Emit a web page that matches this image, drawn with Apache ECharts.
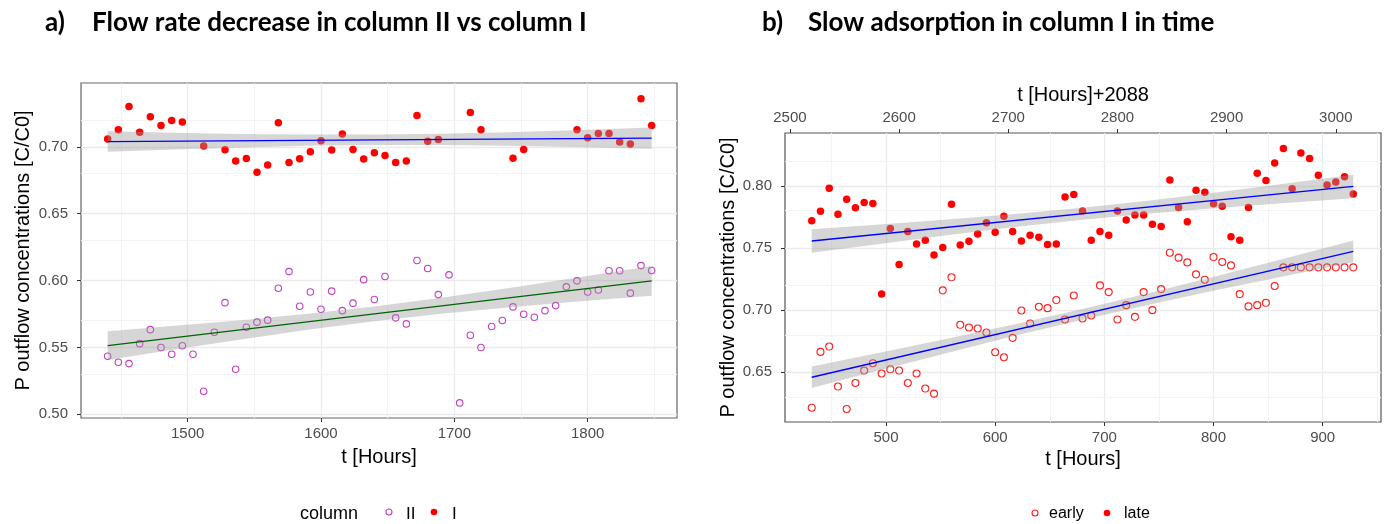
<!DOCTYPE html>
<html><head><meta charset="utf-8">
<script src="https://cdn.jsdelivr.net/npm/echarts@6/dist/echarts.min.js"></script>
<style>html,body{margin:0;padding:0;background:#fff}#c{width:1390px;height:524px}</style>
</head><body><div id="c"></div>
<script>
// ---------- Panel a) data ----------
const timeII = [1440,1448,1456,1464,1472,1480,1488,1496,1504,1512,1520,1528,1536,1544,1552,1560,1568,1576,1584,1592,1600,1608,1616,1624,1632,1640,1648,1656,1664,1672,1680,1688,1696,1704,1712,1720,1728,1736,1744,1752,1760,1768,1776,1784,1792,1800,1808,1816,1824,1832,1840,1848];
const valII = [0.5434,0.5389,0.5379,0.5528,0.5633,0.5499,0.5449,0.5513,0.5449,0.5172,0.5614,0.5835,0.5337,0.5651,0.5689,0.5704,0.5943,0.6067,0.5808,0.5915,0.5786,0.5921,0.5775,0.5831,0.6007,0.5858,0.6030,0.5721,0.5676,0.6150,0.6090,0.5895,0.6043,0.5085,0.5591,0.5499,0.5656,0.5701,0.5803,0.5748,0.5726,0.5775,0.5813,0.5953,0.5998,0.5915,0.5930,0.6073,0.6073,0.5906,0.6112,0.6075];
const timeI = [1440,1448,1456,1464,1472,1480,1488,1496,1512,1528,1536,1544,1552,1560,1568,1576,1584,1592,1600,1608,1616,1624,1632,1640,1648,1656,1664,1672,1680,1688,1712,1720,1744,1752,1792,1800,1808,1816,1824,1832,1840,1848];
const valI = [0.7060,0.7128,0.7302,0.7110,0.7225,0.7160,0.7198,0.7186,0.7006,0.6978,0.6894,0.6913,0.6811,0.6864,0.7180,0.6883,0.6911,0.6963,0.7046,0.6976,0.7096,0.6980,0.6909,0.6956,0.6936,0.6883,0.6894,0.7235,0.7043,0.7055,0.7258,0.7128,0.6916,0.6980,0.7128,0.7068,0.7100,0.7100,0.7036,0.7021,0.7360,0.7160];
// fitted lines and confidence bands
const fitTimeA = [1440,1848];
const fitI = [0.7040,0.7066];
const fitII = [0.5513,0.5998];
const bandTimeA = [1440,1490,1540,1590,1640,1690,1740,1790,1848];
const bandILo = [0.6963,0.6980,0.6995,0.7008,0.7014,0.7014,0.7008,0.6999,0.6987];
const bandIHi = [0.7117,0.7106,0.7097,0.7092,0.7092,0.7098,0.7110,0.7125,0.7145];
const bandIILo = [0.5405,0.5484,0.5560,0.5632,0.5696,0.5751,0.5799,0.5841,0.5887];
const bandIIHi = [0.5621,0.5662,0.5704,0.5752,0.5806,0.5871,0.5943,0.6019,0.6109];
const xTicksA = [1500,1600,1700,1800];
const xMinorA = [1450,1550,1650,1750,1850];
const yTicksA = [0.50,0.55,0.60,0.65,0.70];
const yMinorA = [0.525,0.575,0.625,0.675,0.725];

// ---------- Panel b) data ----------
const timeB = [432,440,448,456,464,472,480,488,496,504,512,520,528,536,544,552,560,568,576,584,592,600,608,616,624,632,640,648,656,664,672,680,688,696,704,712,720,728,736,744,752,760,768,776,784,792,800,808,816,824,832,840,848,856,864,872,880,888,896,904,912,920,928];
const valLate = [0.7720,0.7796,0.7981,0.7772,0.7893,0.7823,0.7866,0.7857,0.7129,0.7656,0.7368,0.7632,0.7532,0.7562,0.7444,0.7503,0.7852,0.7524,0.7554,0.7613,0.7702,0.7627,0.7756,0.7632,0.7556,0.7602,0.7586,0.7527,0.7532,0.7911,0.7930,0.7798,0.7562,0.7632,0.7602,0.7798,0.7726,0.7766,0.7766,0.7691,0.7672,0.8046,0.7825,0.7712,0.7965,0.7949,0.7855,0.7836,0.7591,0.7562,0.7825,0.8102,0.8043,0.8183,0.8301,0.7976,0.8264,0.8220,0.8086,0.8006,0.8030,0.8073,0.7935];
const valEarly = [0.6215,0.6664,0.6707,0.6385,0.6205,0.6414,0.6514,0.6573,0.6490,0.6524,0.6514,0.6414,0.6490,0.6369,0.6328,0.7159,0.7264,0.6882,0.6860,0.6852,0.6820,0.6661,0.6621,0.6777,0.6997,0.6893,0.7027,0.7016,0.7081,0.6925,0.7118,0.6933,0.6957,0.7199,0.7145,0.6925,0.7040,0.6946,0.7145,0.7000,0.7169,0.7462,0.7422,0.7384,0.7288,0.7245,0.7427,0.7387,0.7360,0.7129,0.7030,0.7040,0.7059,0.7194,0.7344,0.7344,0.7344,0.7344,0.7344,0.7344,0.7344,0.7344,0.7344];
const fitTimeB = [432,928];
const fitLate = [0.7556,0.7995];
const fitEarly = [0.6460,0.7473];
const bandTimeB = [432,494,556,618,680,742,804,866,928];
const bandLateLo = [0.7461,0.7533,0.7603,0.7669,0.7728,0.7778,0.7822,0.7862,0.7900];
const bandLateHi = [0.7651,0.7689,0.7729,0.7773,0.7824,0.7882,0.7948,0.8018,0.8090];
const bandEarlyLo = [0.6373,0.6516,0.6656,0.6793,0.6923,0.7046,0.7163,0.7275,0.7386];
const bandEarlyHi = [0.6547,0.6658,0.6770,0.6887,0.7010,0.7140,0.7277,0.7417,0.7560];
const xTicksB = [500,600,700,800,900];
const xMinorB = [450,550,650,750,850,950];
const xTicksTop = [2500,2600,2700,2800,2900,3000];
const yTicksB = [0.65,0.70,0.75,0.80];
const yMinorB = [0.625,0.675,0.725,0.775,0.825];

const FONT = 'Liberation Sans';
const zip = (a,b) => a.map((v,i)=>[v,b[i]]);

function band(xi, yi, t, lo, hi) {
  const data = t.map((x,i)=>[x, lo[i], hi[i]]);
  return {
    type:'custom', xAxisIndex:xi, yAxisIndex:yi, z:3, silent:true, data,
    encode:{x:0, y:[1,2]},
    renderItem:(params, api) => {
      if (params.dataIndex !== 0) return null;
      const pts = [];
      for (let i=0;i<data.length;i++) pts.push(api.coord([data[i][0], data[i][2]]));
      for (let i=data.length-1;i>=0;i--) pts.push(api.coord([data[i][0], data[i][1]]));
      return {type:'polygon', shape:{points:pts}, style:{fill:'rgba(153,153,153,0.4)', stroke:null}};
    }
  };
}
function gridLines(xMaj, xMin, yMaj, yMin) {
  const d = [];
  xMaj.forEach(v=>d.push({xAxis:v, lineStyle:{color:'#ebebeb', width:1.3, type:'solid'}}));
  xMin.forEach(v=>d.push({xAxis:v, lineStyle:{color:'#f3f3f3', width:1, type:'solid'}}));
  yMaj.forEach(v=>d.push({yAxis:v, lineStyle:{color:'#ebebeb', width:1.3, type:'solid'}}));
  yMin.forEach(v=>d.push({yAxis:v, lineStyle:{color:'#f3f3f3', width:1, type:'solid'}}));
  return {silent:true, symbol:['none','none'], label:{show:false}, z:1, animation:false, data:d};
}
function fitLine(xi, yi, t, v, color, gl) {
  const s = {type:'line', xAxisIndex:xi, yAxisIndex:yi, data:zip(t,v), showSymbol:false, symbol:'none',
    lineStyle:{color, width:1.3}, z:4, silent:true};
  if (gl) s.markLine = gl;
  return s;
}
function axisX(gi, min, max, ticks, extra) {
  return Object.assign({
    gridIndex:gi, type:'value', min, max, splitLine:{show:false},
    axisLine:{show:false},
    axisTick:{show:true, length:4, customValues:ticks, lineStyle:{color:'#333', width:1}},
    axisLabel:{customValues:ticks, color:'#4d4d4d', fontSize:15, fontFamily:FONT, margin:8,
      formatter:v=>String(Math.round(v))},
    nameLocation:'middle', nameTextStyle:{fontSize:20, color:'#000', fontFamily:FONT}
  }, extra);
}
function axisY(gi, min, max, ticks, extra) {
  return Object.assign({
    gridIndex:gi, type:'value', min, max, splitLine:{show:false},
    axisLine:{show:false},
    axisTick:{show:true, length:4, customValues:ticks, lineStyle:{color:'#333', width:1}},
    axisLabel:{customValues:ticks, color:'#4d4d4d', fontSize:15, fontFamily:FONT, margin:13,
      formatter:v=>v.toFixed(2)},
    nameLocation:'middle', nameRotate:90, nameTextStyle:{fontSize:20, color:'#000', fontFamily:FONT}
  }, extra);
}

const chart = echarts.init(document.getElementById('c'), null, {renderer:'canvas'});
chart.setOption({
  animation:false,
  backgroundColor:'#fff',
  grid:[
    {left:81, top:83, width:596, height:335, show:true, borderColor:'#666', borderWidth:1.2, backgroundColor:'transparent'},
    {left:785, top:133, width:596, height:289, show:true, borderColor:'#555', borderWidth:1.2, backgroundColor:'transparent'}
  ],
  xAxis:[
    axisX(0, 1420, 1867, xTicksA, {name:'t [Hours]', nameGap:29}),
    axisX(1, 407.5, 953.4, xTicksB, {name:'t [Hours]', nameGap:26}),
    axisX(1, 2495.5, 3041.4, xTicksTop, {position:'top', name:'t [Hours]+2088', nameGap:27})
  ],
  yAxis:[
    axisY(0, 0.4972, 0.7478, yTicksA, {name:'P outflow concentrations [C/C0]', nameGap:48}),
    axisY(1, 0.61, 0.8425, yTicksB, {name:'P outflow concentrations [C/C0]', nameGap:47})
  ],
  series:[
    {name:'II', type:'scatter', xAxisIndex:0, yAxisIndex:0, data:zip(timeII,valII), symbol:'circle', symbolSize:6.5,
      itemStyle:{color:'rgba(0,0,0,0)', borderColor:'#c040c0', borderWidth:1.1, opacity:1}, z:2, silent:true},
    {name:'I', type:'scatter', xAxisIndex:0, yAxisIndex:0, data:zip(timeI,valI), symbol:'circle', symbolSize:7.5,
      itemStyle:{color:'#ff0000', opacity:1}, z:2, silent:true},
    band(0,0,bandTimeA,bandILo,bandIHi),
    band(0,0,bandTimeA,bandIILo,bandIIHi),
    fitLine(0,0,fitTimeA,fitI,'#0000ff', gridLines(xTicksA,xMinorA,yTicksA,yMinorA)),
    fitLine(0,0,fitTimeA,fitII,'#006400'),
    {name:'early', type:'scatter', xAxisIndex:1, yAxisIndex:1, data:zip(timeB,valEarly), symbol:'circle', symbolSize:7,
      itemStyle:{color:'rgba(0,0,0,0)', borderColor:'#ff2020', borderWidth:1.1, opacity:1}, z:2, silent:true},
    {name:'late', type:'scatter', xAxisIndex:1, yAxisIndex:1, data:zip(timeB,valLate), symbol:'circle', symbolSize:7.5,
      itemStyle:{color:'#ff0000', opacity:1}, z:2, silent:true},
    band(1,1,bandTimeB,bandLateLo,bandLateHi),
    band(1,1,bandTimeB,bandEarlyLo,bandEarlyHi),
    fitLine(1,1,fitTimeB,fitLate,'#0000ff', gridLines(xTicksB,xMinorB,yTicksB,yMinorB)),
    fitLine(1,1,fitTimeB,fitEarly,'#0000ff')
  ],
  graphic:[
    {type:'text', style:{x:45, y:23, text:'a)', font:'bold 26px Lato', fill:'#000', textVerticalAlign:'middle'}},
    {type:'text', style:{x:92, y:23, text:'Flow rate decrease in column II vs column I', font:'bold 26px Lato', fill:'#000', textVerticalAlign:'middle'}},
    {type:'text', style:{x:762, y:23, text:'b)', font:'bold 26px Lato', fill:'#000', textVerticalAlign:'middle'}},
    {type:'text', style:{x:808, y:23, text:'Slow adsorption in column I in time', font:'bold 26px Lato', fill:'#000', textVerticalAlign:'middle'}},
    // legend a)
    {type:'text', style:{x:300, y:514, text:'column', font:'18px "Liberation Sans"', fill:'#000', textVerticalAlign:'middle'}},
    {type:'circle', shape:{cx:389, cy:512, r:3}, style:{fill:'none', stroke:'#c040c0', lineWidth:1.1}},
    {type:'text', style:{x:406, y:514, text:'II', font:'17px "Liberation Sans"', fill:'#000', textVerticalAlign:'middle'}},
    {type:'circle', shape:{cx:434, cy:512, r:3.3}, style:{fill:'#ff0000'}},
    {type:'text', style:{x:452, y:514, text:'I', font:'17px "Liberation Sans"', fill:'#000', textVerticalAlign:'middle'}},
    // legend b)
    {type:'circle', shape:{cx:1035, cy:513, r:3}, style:{fill:'none', stroke:'#ff2020', lineWidth:1.1}},
    {type:'text', style:{x:1049, y:514, text:'early', font:'16px "Liberation Sans"', fill:'#000', textVerticalAlign:'middle'}},
    {type:'circle', shape:{cx:1107, cy:513, r:3.3}, style:{fill:'#ff0000'}},
    {type:'text', style:{x:1124, y:514, text:'late', font:'16px "Liberation Sans"', fill:'#000', textVerticalAlign:'middle'}}
  ]
});
</script></body></html>
